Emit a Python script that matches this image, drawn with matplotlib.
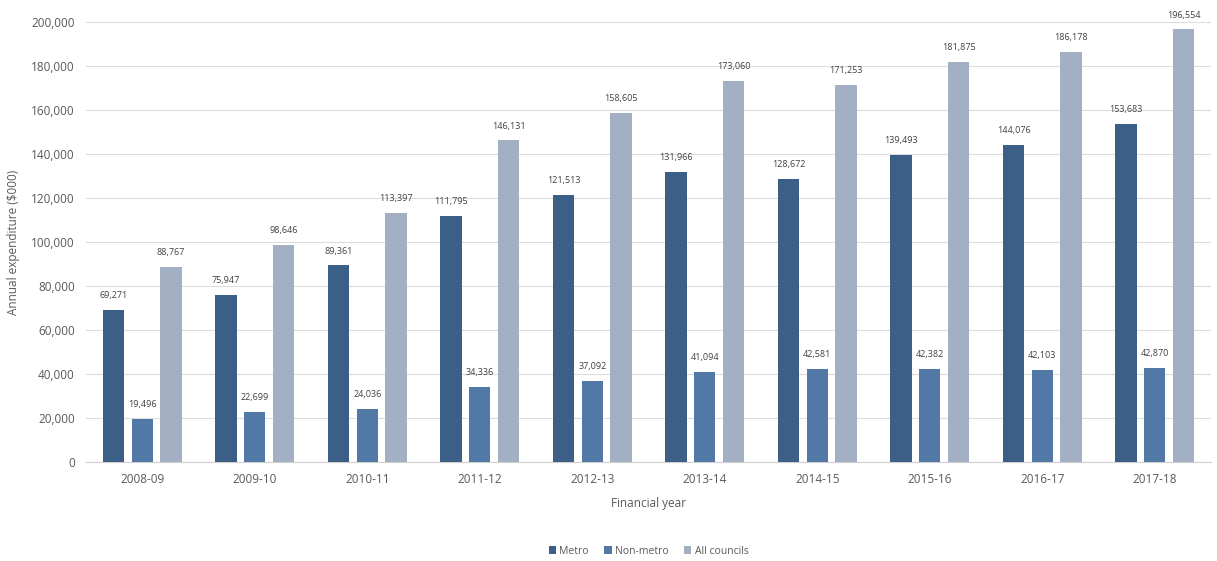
import matplotlib.pyplot as plt
import numpy as np

years = ["2008-09", "2009-10", "2010-11", "2011-12", "2012-13",
         "2013-14", "2014-15", "2015-16", "2016-17", "2017-18"]
metro = [69271, 75947, 89361, 111795, 121513, 131966, 128672, 139493, 144076, 153683]
non_metro = [19496, 22699, 24036, 34336, 37092, 41094, 42581, 42382, 42103, 42870]
all_councils = [88767, 98646, 113397, 146131, 158605, 173060, 171253, 181875, 186178, 196554]

series = [("Metro", metro, "#3b5f86"),
          ("Non-metro", non_metro, "#5279a6"),
          ("All councils", all_councils, "#a3afc2")]

plt.rcParams['font.family'] = ['Open Sans', 'DejaVu Sans']
text_col = "#595959"

fig = plt.figure(figsize=(12.17, 5.61), dpi=100)
ax = fig.add_axes([0.0707, 0.176, 0.9244, 0.785])

x = np.arange(len(years))
width = 0.19
offsets = [-0.255, 0, 0.255]

for (name, vals, col), off in zip(series, offsets):
    bars = ax.bar(x + off, vals, width, color=col, label=name, zorder=3)
    for b, v in zip(bars, vals):
        ax.text(b.get_x() + b.get_width() / 2, v + 4500, f"{v:,}",
                ha='center', va='bottom', fontsize=6.5, color="#404040")

ax.set_xlim(-0.5, len(years) - 0.5)
ax.set_ylim(0, 200000)
ax.set_yticks(np.arange(0, 200001, 20000))
ax.yaxis.set_major_formatter(plt.FuncFormatter(lambda v, p: f"{int(v):,}"))
ax.set_xticks(x)
ax.set_xticklabels(years)
ax.tick_params(axis='both', length=0, labelsize=8.5, colors=text_col, pad=8)
ax.grid(axis='y', color="#dcdcdc", linewidth=0.8, zorder=0)
for s in ['top', 'right', 'left']:
    ax.spines[s].set_visible(False)
ax.spines['bottom'].set_color("#d0d0d0")

ax.set_ylabel("Annual expenditure ($000)", fontsize=8.5, color=text_col, labelpad=8)
ax.set_xlabel("Financial year", fontsize=8.5, color=text_col, labelpad=8)

ax.legend(loc='center', bbox_to_anchor=(0.5, -0.202), ncol=3, frameon=False,
          fontsize=7.5, labelcolor=text_col, handlelength=0.7, handleheight=0.7,
          handletextpad=0.3, columnspacing=1.5)

fig.savefig("out.png", dpi=100)
